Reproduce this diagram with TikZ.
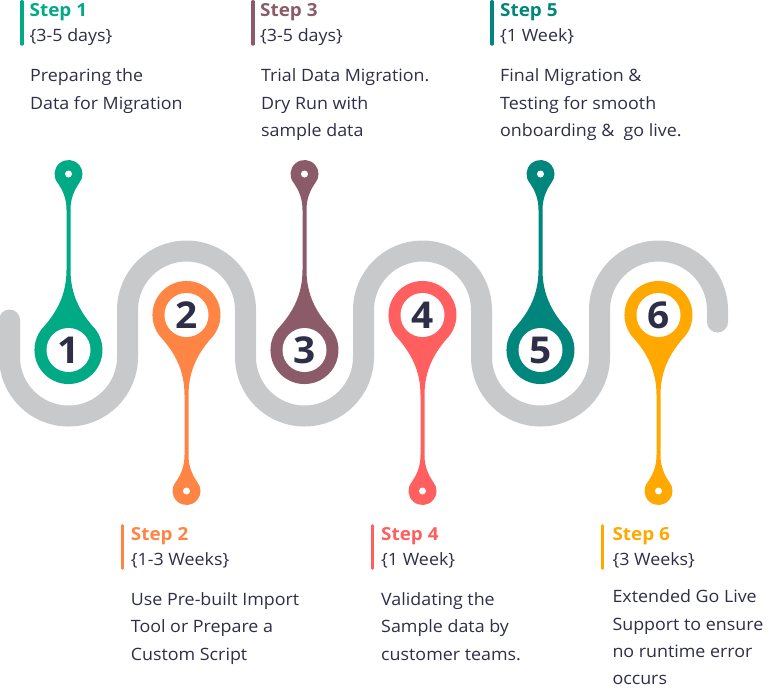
\documentclass[tikz,border=0pt]{standalone}
\usepackage{fontspec}
\setmainfont{Open Sans}[FakeStretch=1.05]
\usepackage{tikz}

\definecolor{vert}{RGB}{0,170,133}
\definecolor{orange2}{RGB}{255,133,69}
\definecolor{mauve}{RGB}{139,91,106}
\definecolor{corail}{RGB}{255,95,95}
\definecolor{canard}{RGB}{0,134,124}
\definecolor{ambre}{RGB}{255,168,0}
\definecolor{encre}{RGB}{46,46,72}
\definecolor{gris}{RGB}{200,201,203}

\begin{document}
\begin{tikzpicture}[x=1pt,y=-1pt]
      \tikzstyle{route}=[gris,line width=21pt,line cap=round]
      \tikzstyle{chiffre}=[circle,fill=white,minimum size=44pt,inner sep=0pt,text=encre,font=\fontsize{37}{37}\selectfont\bfseries]
      \tikzstyle{titre}=[anchor=base west,inner sep=0pt,font=\fontsize{18}{18}\selectfont\bfseries]
      \tikzstyle{duree}=[anchor=base west,inner sep=0pt,text=encre,font=\fontsize{17}{17}\selectfont]
      \tikzstyle{texte}=[anchor=base west,inner sep=0pt,text=encre,align=left,font=\fontsize{17}{27.4}\selectfont]
      \tikzstyle{barre}=[line width=3.2pt,line cap=round]
      \tikzset{goutte/.pic={
        \path[pic actions] (24,-24) arc[start angle=-45,end angle=225,radius=34]
          .. controls (-12,-38) and (-2,-55) .. (-2,-80) -- (-2,-140)
          .. controls (-2,-152) and (-6,-160) .. (-10.72,-167)
          arc[start angle=140,end angle=400,radius=14]
          .. controls (6,-160) and (2,-152) .. (2,-140) -- (2,-80)
          .. controls (2,-55) and (12,-38) .. (24,-24) -- cycle;
        \fill[white] (0,-176) circle[radius=3.5];
      }}
      \useasboundingbox (0,0) rectangle (768,689);
      % la route
      \draw[route] (9.5,320) -- (9.5,357)
        arc[start angle=180,end angle=0,radius=59] -- (127.5,310)
        arc[start angle=180,end angle=360,radius=59] -- (245.5,357)
        arc[start angle=180,end angle=0,radius=59] -- (363.5,310)
        arc[start angle=180,end angle=360,radius=59] -- (481.5,357)
        arc[start angle=180,end angle=0,radius=59] -- (599.5,310)
        arc[start angle=180,end angle=360,radius=59] -- (717.5,322);
      % les gouttes
      \pic[fill=vert] at (68.5,350) {goutte};
      \pic[fill=orange2,yscale=-1] at (186.5,315) {goutte};
      \pic[fill=mauve] at (304.5,350) {goutte};
      \pic[fill=corail,yscale=-1] at (422.5,315) {goutte};
      \pic[fill=canard] at (540.5,350) {goutte};
      \pic[fill=ambre,yscale=-1] at (658.5,315) {goutte};
      \node[chiffre] (n1) at (68.5,350) {1};
      \node[chiffre] (n2) at (186.5,315) {2};
      \node[chiffre] (n3) at (304.5,350) {3};
      \node[chiffre] (n4) at (422.5,315) {4};
      \node[chiffre] (n5) at (540.5,350) {5};
      \node[chiffre] (n6) at (658.5,315) {6};
      % etapes du haut (ancre sur la derniere ligne)
      \draw[barre,vert] (22,1.6) -- (22,44.1);
      \node[titre,text=vert] (t1) at (29.5,16) {Step 1};
      \node[duree] (d1) at (29.5,41.7) {\{3-5 days\}};
      \node[texte] (x1) at (30,109.1) {Preparing the\\Data for Migration};
      \draw[barre,mauve] (253,1.6) -- (253,44.1);
      \node[titre,text=mauve] (t3) at (260,16) {Step 3};
      \node[duree] (d3) at (260,41.7) {\{3-5 days\}};
      \node[texte] (x3) at (261,136.5) {Trial Data Migration.\\Dry Run with\\sample data};
      \draw[barre,canard] (492,1.6) -- (492,44.1);
      \node[titre,text=canard] (t5) at (500,16) {Step 5};
      \node[duree] (d5) at (500,41.7) {\{1 Week\}};
      \node[texte] (x5) at (500,136.5) {Final Migration \&\\Testing for smooth\\onboarding \&~ go live.};
      % etapes du bas
      \draw[barre,orange2] (122.3,525.6) -- (122.3,568.4);
      \node[titre,text=orange2] (t2) at (130.7,540.7) {Step 2};
      \node[duree] (d2) at (130.7,565) {\{1-3 Weeks\}};
      \node[texte] (x2) at (130.7,660.2) {Use Pre-built Import\\Tool or Prepare a\\Custom Script};
      \draw[barre,corail] (372.3,525.6) -- (372.3,568.4);
      \node[titre,text=corail] (t4) at (381,540.7) {Step 4};
      \node[duree] (d4) at (381,565) {\{1 Week\}};
      \node[texte] (x4) at (381,660.2) {Validating the\\Sample data by\\customer teams.};
      \draw[barre,ambre] (602.8,525.6) -- (602.8,568.4);
      \node[titre,text=ambre] (t6) at (612.3,540.7) {Step 6};
      \node[duree] (d6) at (612.3,565) {\{3 Weeks\}};
      \node[texte] (x6) at (612.3,684.8) {Extended Go Live\\Support to ensure\\no runtime error\\occurs};
\end{tikzpicture}
\end{document}
